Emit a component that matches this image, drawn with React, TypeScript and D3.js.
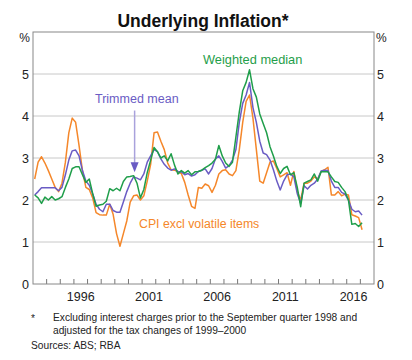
import React, { useEffect, useRef } from 'react';
import * as d3 from 'd3';

// Year-ended %, quarterly from March 1993 to March 2017
const trimmedMean = [
  2.12, 2.2, 2.29, 2.29,
  2.29, 2.29, 2.29, 2.22,
  2.3, 2.6, 2.95, 3.17,
  3.19, 3.05, 2.7, 2.45,
  2.35, 2.15, 1.9, 1.78,
  1.72, 1.9, 1.9, 1.75,
  1.71, 1.71, 1.95, 2.2,
  2.4, 2.55, 2.52, 2.48,
  2.62, 2.9, 3.05, 3.2,
  3.15, 2.98, 2.85, 2.76,
  2.71, 2.74, 2.68, 2.67,
  2.6, 2.63, 2.57, 2.6,
  2.68, 2.71, 2.74, 2.62,
  2.75, 2.98, 3.05, 2.92,
  2.76, 2.82, 2.95, 3.2,
  3.85, 4.3, 4.5, 4.8,
  4.2, 3.85, 3.4, 3.12,
  3.08, 2.95, 2.72, 2.45,
  2.24, 2.45, 2.6, 2.62,
  2.55, 2.15, 1.92, 2.34,
  2.26, 2.35, 2.4, 2.5,
  2.69, 2.71, 2.7, 2.45,
  2.3, 2.3, 2.18, 2.14,
  2.0, 1.78, 1.72, 1.74,
  1.64,
];

const weightedMedian = [
  2.12, 2.05, 1.92, 2.07,
  2.0, 2.08, 2.0, 2.03,
  2.08, 2.3, 2.5, 2.75,
  2.79, 2.79, 2.6, 2.42,
  2.5, 2.15, 1.85, 1.88,
  1.9, 1.97, 2.27, 2.22,
  2.28, 2.22, 2.44, 2.55,
  2.56, 2.58, 2.4, 2.05,
  2.25, 2.65, 2.95, 3.25,
  3.15, 3.0, 3.05, 2.93,
  3.1, 2.83, 2.62, 2.7,
  2.64, 2.7, 2.6, 2.67,
  2.68, 2.71, 2.77, 2.82,
  2.88, 2.97, 3.3, 3.05,
  2.88, 2.8, 2.9, 3.5,
  4.1, 4.6, 4.8, 5.1,
  4.65, 4.45, 4.05, 3.82,
  3.6, 3.27, 3.05, 2.8,
  2.63, 2.75, 2.8, 2.6,
  2.65, 2.3, 1.84, 2.4,
  2.44, 2.48, 2.62, 2.45,
  2.67, 2.67, 2.67, 2.55,
  2.44, 2.42, 2.3, 2.2,
  2.0, 1.42, 1.44, 1.37,
  1.46,
];

const cpiExclVolatile = [
  2.5, 2.9, 3.03, 2.88,
  2.7, 2.5, 2.3, 2.2,
  2.4, 2.9, 3.6, 3.95,
  3.85, 3.3, 2.7, 2.3,
  2.25, 2.05, 1.7, 1.65,
  1.64, 1.64, 1.9, 1.66,
  1.2, 0.9, 1.2, 1.5,
  1.95, 2.1, 2.12, 2.0,
  2.1, 2.45, 2.85, 3.6,
  3.62, 3.4, 3.2, 2.88,
  2.72, 2.71, 2.67, 2.63,
  2.42, 2.12, 1.85, 1.8,
  2.3, 2.28, 2.38, 2.34,
  2.18, 2.35, 2.62, 2.7,
  2.72, 2.62, 2.58, 2.7,
  3.2, 3.85, 4.35, 4.5,
  3.95, 3.2, 2.45, 2.4,
  2.65, 2.9, 2.93, 2.75,
  2.55, 2.6, 2.65, 2.35,
  2.68, 2.2, 2.0, 2.4,
  2.4, 2.45, 2.55, 2.5,
  2.68, 2.72, 2.78, 2.12,
  2.12, 2.2, 2.1, 2.14,
  2.12, 1.65, 1.62, 1.58,
  1.29,
];

const yTicks = [0, 1, 2, 3, 4, 5];
const yearLabels = [1996, 2001, 2006, 2011, 2016];
const footnote = [
  'Excluding interest charges prior to the September quarter 1998 and',
  'adjusted for the tax changes of 1999–2000',
];

const FONT = "Arial, 'Liberation Sans', sans-serif";

const App: React.FC = () => {
  const svgRef = useRef<SVGSVGElement>(null);

  useEffect(() => {
    document.body.style.margin = '0';
    if (!svgRef.current) return;
    const svg = d3.select(svgRef.current);
    svg.selectAll('*').remove();

    const left = 33, right = 374, top = 32, bottom = 284;
    const x = d3.scaleLinear().domain([1993, 2018]).range([left, right]);
    const y = d3.scaleLinear().domain([0, 6]).range([bottom, top]);
    const qx = (i: number) => x(1993 + (i + 0.5) / 4);

    // title
    svg.append('text').attr('x', 203).attr('y', 27).attr('text-anchor', 'middle')
      .attr('font-family', FONT).attr('font-weight', 'bold').attr('font-size', 17.5)
      .attr('fill', '#111').text('Underlying Inflation*');

    // gridlines
    yTicks.filter(v => v > 0).forEach(v => {
      svg.append('line').attr('x1', left).attr('x2', right).attr('y1', y(v)).attr('y2', y(v))
        .attr('stroke', '#c8c8c8').attr('stroke-width', 1);
    });

    // year ticks along bottom
    d3.range(1994, 2018).forEach(yr => {
      svg.append('line').attr('x1', x(yr)).attr('x2', x(yr)).attr('y1', bottom).attr('y2', bottom - 5)
        .attr('stroke', '#777').attr('stroke-width', 1);
    });

    // y labels both sides
    yTicks.forEach(v => {
      svg.append('text').attr('x', left - 4).attr('y', y(v) + 4.5).attr('text-anchor', 'end')
        .attr('font-family', FONT).attr('font-size', 12.5).attr('fill', '#222').text(v);
      svg.append('text').attr('x', right + 3).attr('y', y(v) + 4.5).attr('text-anchor', 'start')
        .attr('font-family', FONT).attr('font-size', 12.5).attr('fill', '#222').text(v);
    });
    svg.append('text').attr('x', left - 3).attr('y', top + 10).attr('text-anchor', 'end')
      .attr('font-family', FONT).attr('font-size', 12).attr('fill', '#222').text('%');
    svg.append('text').attr('x', right + 2).attr('y', top + 10).attr('text-anchor', 'start')
      .attr('font-family', FONT).attr('font-size', 12).attr('fill', '#222').text('%');

    // x labels
    yearLabels.forEach(yr => {
      svg.append('text').attr('x', x(yr + 0.5)).attr('y', 301).attr('text-anchor', 'middle')
        .attr('font-family', FONT).attr('font-size', 12.5).attr('fill', '#222').text(yr);
    });

    // series
    const line = d3.line<number>().x((_, i) => qx(i)).y(d => y(d));
    const series = [
      { data: cpiExclVolatile, color: '#f5872a' },
      { data: trimmedMean, color: '#6a5cc4' },
      { data: weightedMedian, color: '#1f9e4a' },
    ];
    series.forEach(s => {
      svg.append('path').datum(s.data).attr('d', line).attr('fill', 'none')
        .attr('stroke', s.color).attr('stroke-width', 1.5).attr('stroke-linejoin', 'round');
    });

    // border
    svg.append('rect').attr('x', left).attr('y', top).attr('width', right - left).attr('height', bottom - top)
      .attr('fill', 'none').attr('stroke', '#888').attr('stroke-width', 1);

    // series labels
    svg.append('text').attr('x', 203).attr('y', 64).attr('font-family', FONT).attr('font-size', 12.8)
      .attr('fill', '#1f9e4a').text('Weighted median');
    svg.append('text').attr('x', 95).attr('y', 103).attr('font-family', FONT).attr('font-size', 12.5)
      .attr('fill', '#6a5cc4').text('Trimmed mean');
    svg.append('text').attr('x', 139).attr('y', 228).attr('font-family', FONT).attr('font-size', 12.3)
      .attr('fill', '#f5872a').text('CPI excl volatile items');

    // arrow to trimmed mean
    const ax = x(2000.45);
    svg.append('line').attr('x1', ax).attr('x2', ax).attr('y1', y(4.13)).attr('y2', y(2.85))
      .attr('stroke', '#a9a2dc').attr('stroke-width', 1.5);
    svg.append('path')
      .attr('d', `M${ax - 4},${y(2.9)}L${ax + 4},${y(2.9)}L${ax},${y(2.66)}Z`)
      .attr('fill', '#6a5cc4');

    // footnotes
    svg.append('text').attr('x', 31).attr('y', 322).attr('font-family', FONT).attr('font-size', 10.2)
      .attr('fill', '#222').text('*');
    footnote.forEach((t, i) => {
      svg.append('text').attr('x', 53).attr('y', 321 + i * 13).attr('font-family', FONT)
        .attr('font-size', 10.2).attr('fill', '#222').text(t);
    });
    svg.append('text').attr('x', 31).attr('y', 349).attr('font-family', FONT).attr('font-size', 10.2)
      .attr('fill', '#222').text('Sources: ABS; RBA');
  }, []);

  return <svg ref={svgRef} width={412} height={360} style={{ display: 'block', background: '#fff' }} />;
};

export default App;
